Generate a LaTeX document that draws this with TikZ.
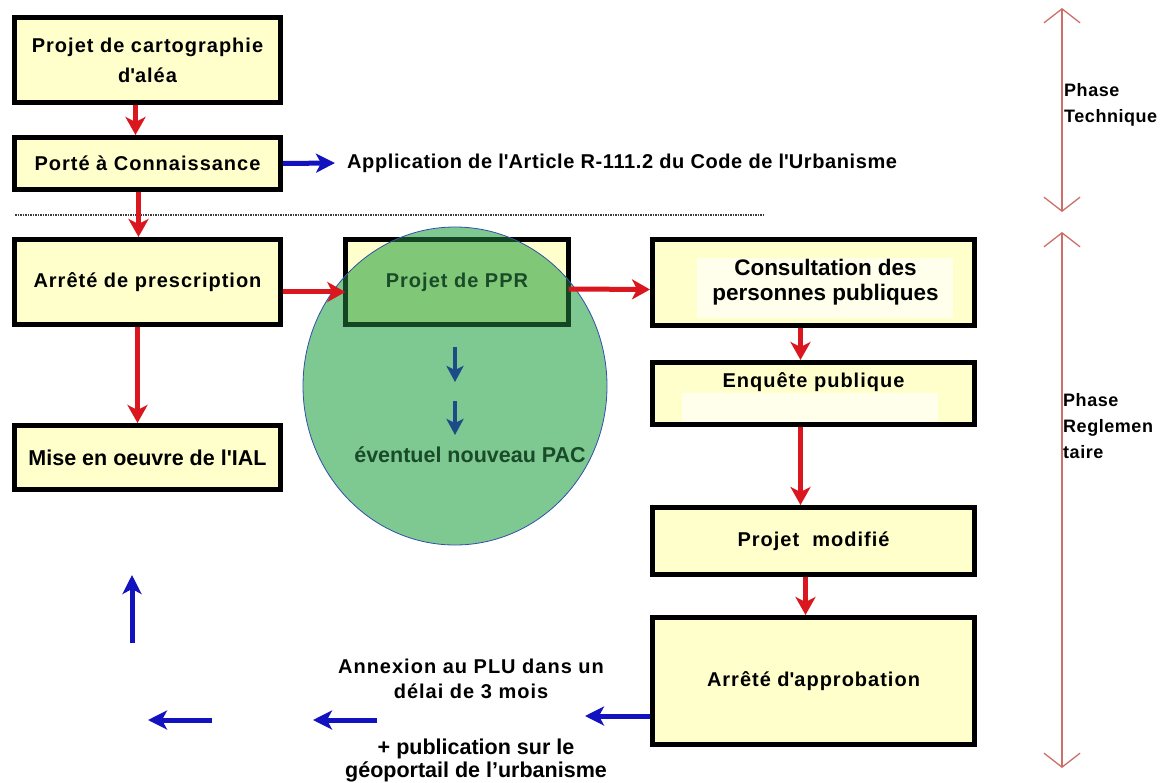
\documentclass[tikz,border=0pt]{standalone}
\usepackage{fontspec}
\setmainfont{Liberation Sans}
\newfontfamily\spc[LetterSpace=5]{Liberation Sans}
\newfontfamily\spcb[LetterSpace=3]{Liberation Sans}
\usetikzlibrary{arrows.meta,calc}
\pgfdeclarelayer{background}
\pgfsetlayers{background,main}
\definecolor{boxyellow}{RGB}{255,255,204}
\definecolor{lightyellow}{RGB}{255,255,236}
\definecolor{arrowred}{RGB}{218,22,30}
\definecolor{arrowblue}{RGB}{18,18,190}
\definecolor{phasered}{RGB}{205,110,105}
\definecolor{circlegreen}{RGB}{126,200,146}
\definecolor{boxgreen}{RGB}{128,200,120}
\definecolor{dkgreen}{RGB}{20,70,35}
\definecolor{textgreen}{RGB}{25,75,40}
\definecolor{circblue}{RGB}{50,80,170}
\definecolor{innerblue}{RGB}{28,75,135}
\definecolor{dotgray}{RGB}{60,60,60}
\newcommand{\q}{\textquotesingle}
\begin{document}
\begin{tikzpicture}[x=1pt,y=-1pt,
  box/.style={draw=black, line width=5pt, fill=boxyellow, inner sep=0pt, align=center},
  spaced/.style={font=\spc\bfseries\fontsize{20}{30}\selectfont},
  plain/.style={font=\bfseries\fontsize{21.5}{25}\selectfont},
  leftcol/.style={minimum width=266pt},
  rightcol/.style={minimum width=322pt},
  redarrow/.style={draw=arrowred, line width=5pt, -{Stealth[length=18pt,width=20pt,inset=5pt]}},
  bluearrow/.style={draw=arrowblue, line width=5pt, -{Stealth[length=19pt,width=19pt,inset=5pt]}},
  innerarrow/.style={draw=innerblue, line width=4pt, -{Stealth[length=16pt,width=17pt,inset=4pt]}},
  phasearrow/.style={draw=phasered, line width=1.3pt, {Straight Barb[length=14pt,width=36pt]}-{Straight Barb[length=14pt,width=36pt]}},
  phasetext/.style={font=\spcb\bfseries\fontsize{18}{26}\selectfont, align=left, inner sep=0pt, anchor=north west},
  dotline/.style={draw=dotgray, line width=1.1pt, dash pattern=on 1.5pt off 1pt},
  lighterA/.style={path picture={\fill[lightyellow] ($(path picture bounding box.north west)+(44.5,18.5)$) rectangle ($(path picture bounding box.south east)+(-21.5,-7.5)$);}},
  lighterB/.style={path picture={\fill[lightyellow] ($(path picture bounding box.north west)+(29.5,30.5)$) rectangle ($(path picture bounding box.south east)+(-36.5,0)$);}}
]
\useasboundingbox (0,0) rectangle (1166,783);

% left column
\node[box, spaced, leftcol, minimum height=85pt] (carto) at (147.5,60) {Projet de cartographie\\d\q al\'ea};
\node[box, spaced, leftcol, minimum height=52pt] (pac) at (147.5,163.5) {Porté à Connaissance};
\node[box, spaced, leftcol, minimum height=85pt] (prescr) at (147.5,282) {Arrêté de prescription};
\node[box, plain, leftcol, minimum height=64pt] (ial) at (147.5,457.5) {Mise en oeuvre de l\q IAL};

% PPR (frame drawn on background, under the circle)
\node[spaced, inner sep=0pt, minimum width=223pt, minimum height=85pt, text=textgreen] (ppr) at (457,282) {Projet de PPR};
\begin{pgfonlayer}{background}
  \draw[line width=5pt, fill=boxyellow] (ppr.north west) rectangle (ppr.south east);
  \fill[circlegreen] (455,386) ellipse [x radius=152, y radius=159];
  \begin{scope}
    \clip (455,386) ellipse [x radius=152, y radius=159];
    \draw[line width=5pt, draw=dkgreen, fill=boxgreen] (ppr.north west) rectangle (ppr.south east);
  \end{scope}
  \draw[circblue, line width=0.8pt] (455,386) ellipse [x radius=152, y radius=159];
\end{pgfonlayer}
\node[plain, text=textgreen, inner sep=0pt] (nouveau) at (470,455) {éventuel nouveau PAC};
\coordinate (i1a) at (455,347);
\coordinate (i1b) at (455,382);
\coordinate (i2a) at (455,401);
\coordinate (i2b) at (455,435);
\draw[innerarrow] (i1a) -- (i1b);
\draw[innerarrow] (i2a) -- (i2b);

% right column
\node[box, font=\bfseries\fontsize{22.5}{25}\selectfont, rightcol, minimum height=86pt, lighterA] (consult) at (813.5,282.5) {\hspace*{24pt}Consultation des\\\hspace*{24pt}personnes publiques};
\node[box, spaced, rightcol, minimum height=62pt, lighterB] (enquete) at (813.5,393.5) {\smash{\raisebox{6.5pt}{Enquête publique}}};
\node[box, spaced, rightcol, minimum height=67pt] (modifie) at (813.5,541) {Projet\ \ modifié};
\node[box, spaced, rightcol, minimum height=127pt] (approb) at (813.5,681) {Arrêté d\q approbation};

% texts
\node[font=\spcb\bfseries\fontsize{20}{25}\selectfont, anchor=west, inner sep=0pt] (app) at (347,163) {Application de l\q Article R-111.2 du Code de l\q Urbanisme};
\node[align=center, inner sep=0pt, anchor=north, font=\spc\bfseries\fontsize{20}{25}\selectfont] (annex) at (471,659) {Annexion au PLU dans un\\délai de 3 mois};
\node[align=center, inner sep=0pt, anchor=north, font=\bfseries\fontsize{21.5}{23}\selectfont] (publi) at (476,739) {+ publication sur le\\géoportail de l’urbanisme};
\node[phasetext] (ptech) at (1064,83) {Phase\\Technique};
\node[phasetext] (preg) at (1063,393) {Phase\\Reglemen\\taire};

% separator
\coordinate (sepL) at (15,215);
\coordinate (sepR) at (765,215);
\draw[dotline] (sepL) -- (sepR);

% red flow arrows
\draw[redarrow] ([xshift=-12pt]carto.south) -- ([xshift=-12pt]pac.north);
\draw[redarrow] ([xshift=-9pt]pac.south) -- ([xshift=-9pt]prescr.north);
\draw[redarrow] ([xshift=-10pt]prescr.south) -- ([xshift=-10pt]ial.north);
\draw[redarrow] ([yshift=-10pt]prescr.east) -- ([yshift=-10pt]ppr.west);
\draw[redarrow] ([yshift=-7pt]ppr.east) -- ([yshift=-7pt]consult.west);
\draw[redarrow] ([xshift=-13pt]consult.south) -- ([xshift=-13pt]enquete.north);
\draw[redarrow] ([xshift=-13pt]enquete.south) -- ([xshift=-13pt]modifie.north);
\draw[redarrow] ([xshift=-8pt]modifie.south) -- ([xshift=-8pt]approb.north);

% blue arrows
\draw[bluearrow] (pac.east) -- ([xshift=-12pt]app.west);
\coordinate (b1e) at (585,716);
\draw[bluearrow] (approb.west |- b1e) -- (b1e);
\coordinate (b2s) at (377,720);
\coordinate (b2e) at (313,720);
\draw[bluearrow] (b2s) -- (b2e);
\coordinate (b3s) at (212,720);
\coordinate (b3e) at (148,720);
\draw[bluearrow] (b3s) -- (b3e);
\coordinate (b4s) at (132,643);
\coordinate (b4e) at (132,575);
\draw[bluearrow] (b4s) -- (b4e);

% phase arrows
\coordinate (t1) at (1062,8);
\coordinate (t2) at (1062,212);
\coordinate (r1) at (1062,232);
\coordinate (r2) at (1062,768);
\draw[phasearrow] (t1) -- (t2);
\draw[phasearrow] (r1) -- (r2);
\end{tikzpicture}
\end{document}
